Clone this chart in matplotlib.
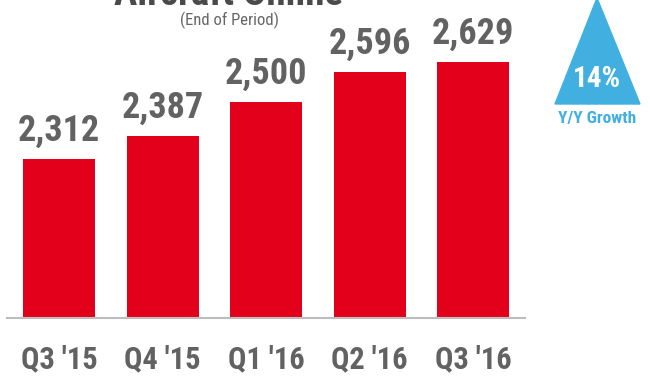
import matplotlib.pyplot as plt
from matplotlib.patches import Polygon

# Aircraft online, end of period
quarters = ["Q3 '15", "Q4 '15", "Q1 '16", "Q2 '16", "Q3 '16"]
aircraft = [2312, 2387, 2500, 2596, 2629]
growth_label = "14%"
growth_caption = "Y/Y Growth"

RED = "#e3001b"
GRAY = "#626262"
BLUE = "#41b0e0"
FONT = ["Roboto Condensed", "DejaVu Sans"]

W, H = 650, 378
fig = plt.figure(figsize=(W / 100, H / 100), dpi=100)

# axes placed in pixel terms: baseline at y=318, bars 0..4 centred 59..473
ax = fig.add_axes([7.25 / W, (H - 318) / H, 517.75 / W, 318 / H])
ax.bar(range(len(quarters)), aircraft, width=0.696, color=RED, zorder=2)
ax.set_xlim(-0.5, 4.5)
ax.set_ylim(1793, 1793 + 318 / 0.306)
for s in ["top", "right", "left"]:
    ax.spines[s].set_visible(False)
ax.spines["bottom"].set_color("#bdbdbd")
ax.spines["bottom"].set_linewidth(1.5)
ax.set_yticks([])
ax.set_xticks(range(len(quarters)))
ax.set_xticklabels(quarters, family=FONT, fontsize=22, fontweight="bold", color=GRAY)
ax.tick_params(axis="x", length=0, pad=19)

for i, v in enumerate(aircraft):
    ax.annotate(f"{v:,}", (i, v), xytext=(0, 13), textcoords="offset points",
                ha="center", va="baseline", family=FONT, fontsize=26,
                fontweight="bold", color=GRAY)

# title, cut off at the top edge as in the source slide
fig.text(228 / W, 1 - 5 / H, "Aircraft Online", ha="center", va="baseline",
         family=FONT, fontsize=28, fontweight="bold", color="#4a4a4a")
fig.text(229 / W, 1 - 20 / H, "(End of Period)", ha="center", va="center",
         family=FONT, fontsize=12, color="#666666")

# growth triangle
tri = Polygon([(597 / W, 1 + 2 / H), (555 / W, 1 - 104 / H), (640 / W, 1 - 104 / H)],
              closed=True, transform=fig.transFigure, color=BLUE)
fig.patches.append(tri)
fig.text(597 / W, 1 - 79 / H, growth_label, ha="center", va="center",
         family=FONT, fontsize=21, fontweight="bold", color="white")
fig.text(597 / W, 1 - 118 / H, growth_caption, ha="center", va="center",
         family=FONT, fontsize=12.5, fontweight="bold", color=BLUE)

fig.savefig("out.png", dpi=100)
